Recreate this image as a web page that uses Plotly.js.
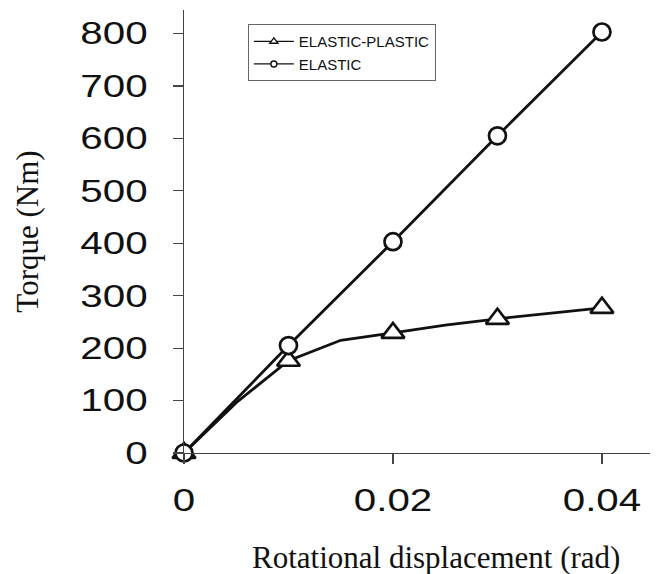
<!DOCTYPE html>
<html>
<head>
<meta charset="utf-8">
<script src="https://cdn.plot.ly/plotly-3.0.1.min.js"></script>
<style>
  html, body { margin: 0; padding: 0; background: #fff; }
  #chart { width: 667px; height: 574px; }
</style>
</head>
<body>
<div id="chart"></div>
<script>
// Rotational displacement (rad)
const elasticX = [0, 0.01, 0.02, 0.03, 0.04];
const elasticY = [0, 205, 403, 605, 803];

const plasticX = [0, 0.005, 0.01, 0.015, 0.02, 0.025, 0.03, 0.035, 0.04];
const plasticY = [0, 96, 176, 215, 229, 244, 256, 266, 277];

const xTicks = [0, 0.02, 0.04];
const xTickText = ['0', '0.02', '0.04'];
const yTicks = [0, 100, 200, 300, 400, 500, 600, 700, 800];

const seriesNames = ['ELASTIC-PLASTIC', 'ELASTIC'];

// markers only at whole 0.01 steps on the elastic-plastic curve
const plasticMarkerOpacity = plasticX.map(v => (Math.abs(v * 100 - Math.round(v * 100)) < 1e-6 ? 1 : 0));

const ink = '#111';

const traces = [
  {
    x: plasticX, y: plasticY, mode: 'lines+markers', showlegend: false, cliponaxis: false,
    line: { color: ink, width: 2.8 },
    marker: { symbol: 'triangle-up', size: 20, color: '#fff', opacity: plasticMarkerOpacity,
              line: { color: ink, width: 2.7 } }
  },
  {
    x: elasticX, y: elasticY, mode: 'lines+markers', showlegend: false, cliponaxis: false,
    line: { color: ink, width: 2.8 },
    marker: { symbol: 'circle', size: 17, color: '#fff', line: { color: ink, width: 2.7 } }
  },
  // legend keys
  {
    x: [null], y: [null], mode: 'lines+markers', name: seriesNames[0],
    line: { color: ink, width: 1.3 },
    marker: { symbol: 'triangle-up', size: 7, color: '#fff', line: { color: ink, width: 1.4 } }
  },
  {
    x: [null], y: [null], mode: 'lines+markers', name: seriesNames[1],
    line: { color: ink, width: 1.3 },
    marker: { symbol: 'circle', size: 6, color: '#fff', line: { color: ink, width: 1.4 } }
  }
];

const layout = {
  width: 667, height: 574,
  margin: { l: 184, r: 17, t: 10, b: 121 },
  paper_bgcolor: '#fff', plot_bgcolor: '#fff',
  font: { family: 'Liberation Sans, Arial, sans-serif', color: ink },
  showlegend: true,
  legend: {
    x: 0.137, y: 0.968, xanchor: 'left', yanchor: 'top',
    bgcolor: '#fff', bordercolor: '#666', borderwidth: 1,
    font: { family: 'Liberation Sans, Arial, sans-serif', size: 15, color: ink },
    itemwidth: 40
  },
  xaxis: {
    range: [0, 0.0446], showgrid: false, zeroline: false,
    showline: true, linecolor: '#444', linewidth: 1.2,
    ticks: 'outside', ticklen: 10, tickwidth: 1.2, tickcolor: '#444',
    tickvals: xTicks, ticktext: xTickText,
    tickfont: { size: 31, color: ink },
    ticklabelstandoff: 10
  },
  yaxis: {
    range: [0, 845], showgrid: false, zeroline: false,
    showline: true, linecolor: '#444', linewidth: 1.2,
    ticks: 'outside', ticklen: 10, tickwidth: 1.2, tickcolor: '#444',
    tickvals: yTicks,
    tickfont: { size: 31, color: ink },
    ticklabelstandoff: 19,
    title: { text: 'Torque (Nm)', standoff: 48,
             font: { family: 'Liberation Serif, Times New Roman, serif', size: 31, color: ink } }
  },
  annotations: [
    {
      text: 'Rotational displacement (rad)', xref: 'paper', yref: 'paper',
      x: 0.541, y: -0.236, xanchor: 'center', yanchor: 'middle', showarrow: false,
      font: { family: 'Liberation Serif, Times New Roman, serif', size: 31, color: ink }
    }
  ]
};

Plotly.newPlot('chart', traces, layout, { staticPlot: true }).then(() => {
  // the tick numerals are set in a wide face: stretch them horizontally
  document.querySelectorAll('#chart .xtick text, #chart .ytick text').forEach(el => {
    const w = el.getComputedTextLength();
    el.setAttribute('textLength', (w * 1.3).toFixed(1));
    el.setAttribute('lengthAdjust', 'spacingAndGlyphs');
  });
});
</script>
</body>
</html>
